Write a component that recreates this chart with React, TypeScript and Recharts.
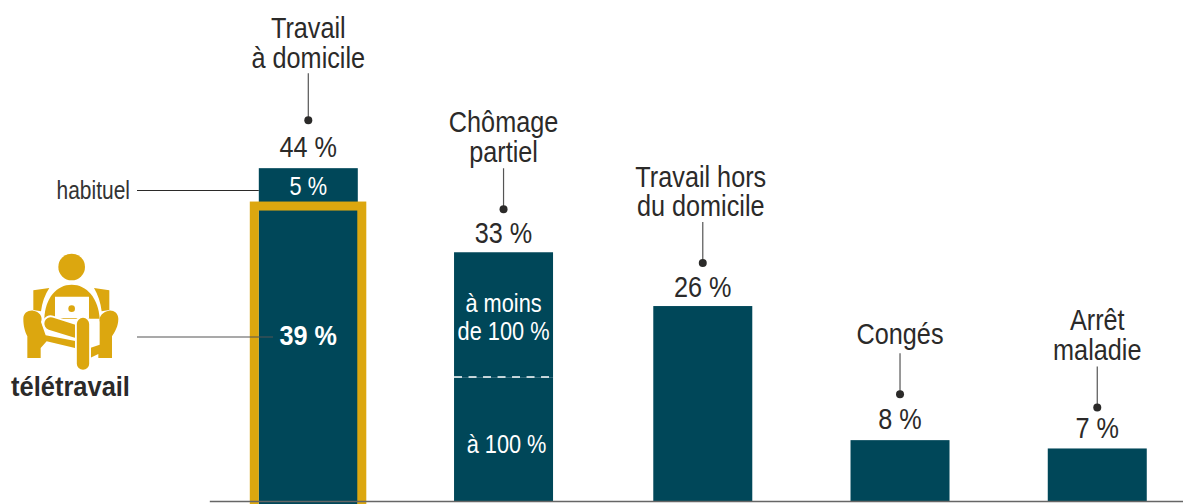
import React from 'react';
import { BarChart, Bar, XAxis, YAxis, LabelList } from 'recharts';

const categories = ['Travail à domicile', 'Chômage partiel', 'Travail hors du domicile', 'Congés', 'Arrêt maladie'];
const categoryLines = [['Travail', 'à domicile'], ['Chômage', 'partiel'], ['Travail hors', 'du domicile'], ['Congés'], ['Arrêt', 'maladie']];
const totalLabels = ['44 %', '33 %', '26 %', '8 %', '7 %'];
const lowerValues = [39, 16.4, 25.8, 8.1, 7];
const upperValues = [5, 16.5, 0, 0, 0];
const barShift = [0, -2, 0, 0, 0];
const titleShift = [0, 0, -2, 0, 0];
const dotGap = [48, 43, 43, 46, 41];
const leaderLength = [47, 41, 41, 41, 41];
const titleGap = [16, 17, 16, 20, 17];
const valueGap = [22, 20, 19, 22, 21];

const rows = categories.map((name, i) => ({ name, lower: lowerValues[i], upper: upperValues[i] }));

const NAVY = '#004759';
const GOLD = '#DCA70F';
const INK = '#2B2A29';
const FONT = '"Liberation Sans", Arial, sans-serif';
const BASE = 501.5;

function T({ x, y, size = 29, fill = INK, weight = 400, anchor = 'middle', sx = 0.87, children }: any) {
  return (
    <text
      transform={`translate(${x},${y + size * 0.36}) scale(${sx},1)`}
      fontSize={size}
      fill={fill}
      fontWeight={weight}
      textAnchor={anchor}
      fontFamily={FONT}
    >
      {children}
    </text>
  );
}

function Icon() {
  const w = '#fff';
  return (
    <g transform="translate(15,248) scale(0.3333)">
      <circle cx={170} cy={57} r={40} fill={GOLD} />
      <path d="M55,127 L103,120 Q83,150 78,190 L55,186 Z" fill={GOLD} />
      <path d="M237,120 L283,127 L283,186 L260,190 Q255,150 237,120 Z" fill={GOLD} />
      <path d="M88,212 C90,150 125,110 170,110 C215,110 250,150 254,212 Z" fill={GOLD} />
      <path d="M120,146 L222,146 L222,210 L120,210 Z" fill={w} />
      <circle cx={170} cy={182} r={10} fill={GOLD} />
      <path d="M25,212 C25,195 40,186 55,188 C72,190 85,205 78,222 L92,262 L185,280 L185,330 L180,330 L180,300 L95,280 L77,300 L77,330 L37,330 L37,265 C30,250 25,235 25,212 Z" fill={GOLD} />
      <path d="M310,212 C310,195 295,186 282,188 C265,190 250,205 254,222 L254,290 L225,300 L225,330 L250,318 L250,330 L291,330 L291,265 C300,250 310,235 310,212 Z" fill={GOLD} />
      <path d="M107,227 L180,250" stroke={w} strokeWidth={50} strokeLinecap="round" />
      <path d="M107,227 L180,250" stroke={GOLD} strokeWidth={38} strokeLinecap="round" />
      <path d="M204,228 L204,347" stroke={w} strokeWidth={48} strokeLinecap="round" />
      <path d="M204,228 L204,347" stroke={GOLD} strokeWidth={37} strokeLinecap="round" />
    </g>
  );
}

function Annotation(props: any) {
  const { x: rawX, y, width, index } = props;
  const x = rawX + barShift[index];
  const cx = x + width / 2;
  const lines = categoryLines[index];
  const dotY = y - dotGap[index];
  const topY = dotY - leaderLength[index];
  const lastY = topY - titleGap[index];
  return (
    <g>
      {lines.map((l, i) => (
        <T key={l} x={cx + titleShift[index]} y={lastY - (lines.length - 1 - i) * 29.5}>{l}</T>
      ))}
      <line x1={cx} x2={cx} y1={topY} y2={dotY} stroke="#555" strokeWidth={1.2} />
      <circle cx={cx} cy={dotY} r={4} fill={INK} />
      <T x={cx} y={y - valueGap[index]}>{totalLabels[index]}</T>
      {index === 0 && (
        <g>
          <T x={cx} y={185.5} size={25} fill="#fff">5 %</T>
          <line x1={137} x2={x} y1={190.5} y2={190.5} stroke={INK} strokeWidth={1} />
          <T x={130} y={189.5} size={25} anchor="end" fill="#333" sx={0.84}>habituel</T>
          <line x1={137} x2={273} y1={337} y2={337} stroke="#555" strokeWidth={1.2} />
          <T x={cx} y={334.5} size={28} fill="#fff" weight={700} sx={0.9}>39 %</T>
          <T x={70.5} y={385.5} size={28} weight={700} sx={0.91}>télétravail</T>
          <Icon />
        </g>
      )}
      {index === 1 && (
        <g>
          <T x={cx} y={302.5} size={25} fill="#fff">à moins</T>
          <T x={cx} y={330.5} size={25} fill="#fff">de 100 %</T>
          <line x1={x} x2={x + width} y1={377} y2={377} stroke="#fff" strokeWidth={1.4} strokeDasharray="8 6.5" />
          <T x={cx + 3} y={443.5} size={25} fill="#fff">à 100 %</T>
        </g>
      )}
    </g>
  );
}

function LowerBar(props: any) {
  const { x, y, width, height, index } = props;
  return <rect x={x + barShift[index]} y={y} width={width} height={height} fill={NAVY} />;
}

function UpperBar(props: any) {
  const { x, y, width, height, index } = props;
  if (!height) return <g />;
  const frameTop = y + height;
  return (
    <g>
      <rect x={x + barShift[index]} y={y} width={width} height={height} fill={NAVY} />
      {index === 0 && (
        <g>
          <rect x={x} y={frameTop} width={width} height={BASE - frameTop + 20} fill={NAVY} />
          <rect x={x - 4.5} y={frameTop} width={width + 8.5} height={BASE - frameTop + 20} fill="none" stroke={GOLD} strokeWidth={9} />
        </g>
      )}
    </g>
  );
}

export default function App() {
  return (
    <div style={{ position: 'absolute', left: 0, top: 0, width: 1183, height: 504, overflow: 'hidden', background: '#fff' }}>
      <BarChart
        width={1196}
        height={504}
        data={rows}
        margin={{ top: 1.5, right: 0, bottom: 1.5, left: 209.8 }}
        barCategoryGap={0}
      >
        <XAxis dataKey="name" height={1} tick={false} tickLine={false} axisLine={{ stroke: '#666', strokeWidth: 1.5 }} />
        <YAxis hide width={0} domain={[0, 66]} />
        <Bar dataKey="lower" stackId="a" fill={NAVY} barSize={99} isAnimationActive={false} shape={<LowerBar />} />
        <Bar dataKey="upper" stackId="a" fill={NAVY} barSize={99} isAnimationActive={false} shape={<UpperBar />}>
          <LabelList dataKey="upper" content={<Annotation />} />
        </Bar>
      </BarChart>
    </div>
  );
}
